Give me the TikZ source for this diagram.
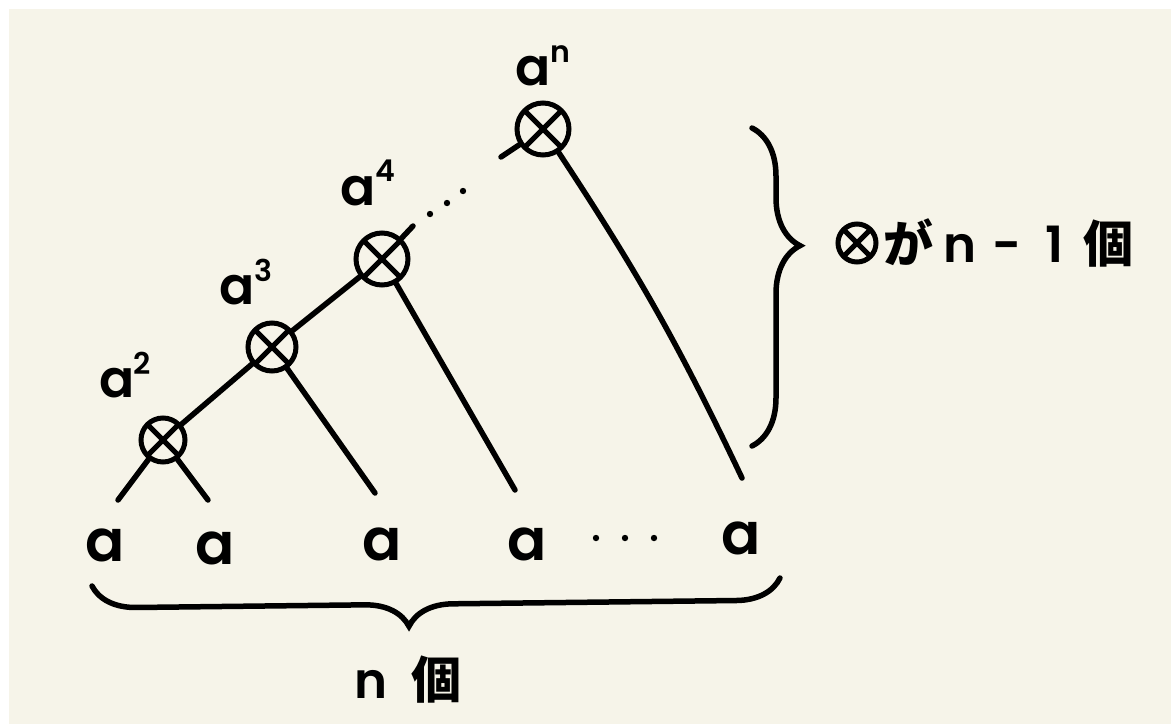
\documentclass[tikz,border=0pt]{standalone}
\usepackage{fontspec}
\setmainfont{Poppins}[BoldFont={Poppins SemiBold}]
\newfontfamily\jpfont{Noto Sans CJK JP}
\usetikzlibrary{decorations.pathreplacing}
\definecolor{paper}{HTML}{F6F4E9}
\newcommand{\apow}[1]{a\kern-1pt\raisebox{0.45em}{\fontsize{30}{30}\selectfont #1}}

\tikzset{
  ink/.style={line width=5.5pt, line cap=round},
  op/.style={circle, draw, line width=5pt, inner sep=0pt, minimum size=#1,
    path picture={\draw[line width=5pt]
      (path picture bounding box.north west) -- (path picture bounding box.south east)
      (path picture bounding box.north east) -- (path picture bounding box.south west);}},
  leaf/.style={font=\bfseries\fontsize{58}{58}\selectfont, inner sep=0pt},
  pow/.style={font=\bfseries\fontsize{52}{52}\selectfont, inner sep=0pt},
  bigbrace/.style={ink, decorate, decoration={brace, amplitude=#1}},
}

\begin{document}
\begin{tikzpicture}[x=1pt, y=-1pt]
  % paper
  \useasboundingbox (0,0) rectangle (1171,724);
  \fill[white] (0,0) rectangle (1171,724);
  \fill[paper] (9,9) rectangle (1171,724);

  % operator nodes
  \node[op=44pt] (c2) at (163,440) {};
  \node[op=48pt] (c3) at (272,347) {};
  \node[op=52pt] (c4) at (382,259) {};
  \node[op=52pt] (cn) at (543,129) {};

  % powers
  \node[pow] (p2) at (125,375) {\apow{2}};
  \node[pow] (p3) at (246,282) {\apow{3}};
  \node[pow] (p4) at (368,183) {\apow{4}};
  \node[pow] (pn) at (543,66) {\apow{n}};

  % leaves
  \node[leaf] (a1) at (105,545) {a};
  \node[leaf] (a2) at (215,548) {a};
  \node[leaf] (a3) at (382,544) {a};
  \node[leaf] (a4) at (527,544) {a};
  \node[leaf] (a5) at (741,538) {a};
  \foreach \x in {596,625,654}
    \fill (\x,538) circle (3.2pt);

  % free ends
  \coordinate (l1) at (118,500);
  \coordinate (l2) at (208,500);
  \coordinate (l3) at (375,493);
  \coordinate (l4) at (515,490);
  \coordinate (l5) at (742,478);
  \coordinate (s4) at (413,226);
  \coordinate (sn) at (501,157);

  % tree
  \draw[ink] (c2) -- (c3);
  \draw[ink] (c3) -- (c4);
  \draw[ink] (c4) -- (s4);
  \draw[ink] (sn) -- (cn);
  \foreach \x/\y in {430/214, 447/203, 463/191}
    \fill (\x,\y) circle (3.2pt);
  \draw[ink] (c2) -- (l1);
  \draw[ink] (c2) -- (l2);
  \draw[ink] (c3) -- (l3);
  \draw[ink] (c4) -- (l4);
  \draw[ink] (cn) to[bend left=4] (l5);

  % braces
  \draw[bigbrace=44pt, decoration={mirror, aspect=0.46}] (92,586) -- (780,578);
  \draw[bigbrace=48pt, decoration={aspect=0.37}] (752,128) -- (752,446);

  % counts
  \node[font=\bfseries\fontsize{50}{50}\selectfont] (cnt) at (408,680)
    {n\hspace{24pt}{\jpfont\bfseries 個}};
  \node[op=38pt] (sym) at (857,243) {};
  \node[font=\bfseries\fontsize{50}{50}\selectfont, anchor=west] (lab) at (880,243)
    {{\jpfont\bfseries が}\hspace{10pt}n\hspace{16pt}-\hspace{24pt}1\hspace{20pt}{\jpfont\bfseries 個}};
\end{tikzpicture}
\end{document}
